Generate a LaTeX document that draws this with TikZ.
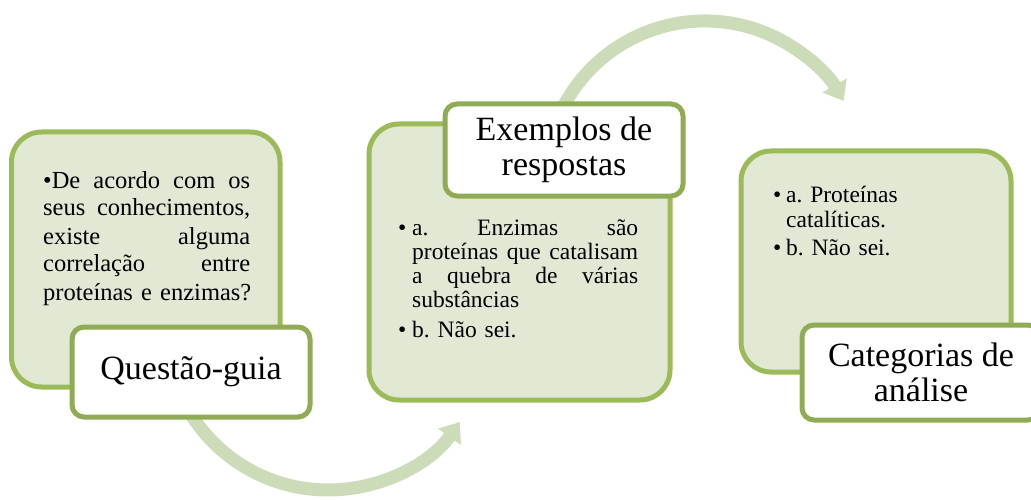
\documentclass[tikz,border=0pt]{standalone}
\usepackage{fontspec}
\setmainfont{Liberation Serif}
\usetikzlibrary{arrows.meta}
\definecolor{boxline}{RGB}{155,187,89}
\definecolor{tagline}{RGB}{143,171,84}
\definecolor{boxfill}{RGB}{225,232,212}
\definecolor{arrowfill}{RGB}{205,220,184}
\frenchspacing
\hbadness=10000
\newcommand{\jline}[2]{\makebox[#1]{#2}}
\begin{document}
\begin{tikzpicture}[x=1pt,y=-1pt]
            \tikzstyle{panel}=[draw=boxline,fill=boxfill,line width=5pt,rounded corners=30pt,inner sep=0pt]
            \tikzstyle{tag}=[draw=tagline,fill=white,line width=5pt,rounded corners=12pt,inner sep=0pt,minimum width=238pt,align=center,font=\fontsize{34}{35}\selectfont]
            \tikzstyle{body}=[inner sep=0pt,anchor=base west,align=left,font=\fontsize{24.5}{28}\selectfont]
            \tikzstyle{cycle}=[draw=arrowfill,line width=13pt,-{Triangle[length=18pt,width=27pt]}]
            \useasboundingbox (0,0) rectangle (1031,500);
            \clip (0,0) rectangle (1031,500);
            \fill[white] (0,0) rectangle (1031,500);
            \node[panel,minimum width=268.5pt,minimum height=255pt] (qbox) at (145.75,259.5) {};
            \node[panel,minimum width=301pt,minimum height=276pt] (ebox) at (519.5,262) {};
            \node[panel,minimum width=270pt,minimum height=221pt] (cbox) at (876,261.5) {};
            \coordinate (qarc) at (328,328);
            \coordinate (earc) at (705,181);
            \draw[cycle] (qarc) ++(150:162) arc[start angle=150,end angle=35.5,radius=162];
            \draw[cycle] (earc) ++(205:160) arc[start angle=205,end angle=330,radius=160];
            \node[tag,minimum height=90pt] (qtag) at (191,372) {Questão-guia};
            \node[tag,minimum height=92pt] (etag) at (564,150) {Exemplos de\\respostas};
            \node[tag,minimum height=95pt] (ctag) at (921,372.5) {Categorias de\\análise};
            \node[body,text width=210pt] (qtext) at (43,188) {\jline{207pt}{•De\hfill acordo\hfill com\hfill os}\\\jline{207pt}{seus\hfill conhecimentos,}\\\jline{207pt}{existe\hfill alguma}\\\jline{207pt}{correlação\hfill entre}\\proteínas e enzimas?};
            \node[body,text width=250pt,font=\fontsize{23.5}{24}\selectfont] (etext) at (398,235) {\makebox[14pt][l]{•}\jline{226pt}{a.\hfill Enzimas\hfill são}\\\hspace*{14pt}\jline{226pt}{proteínas\hfill que\hfill catalisam}\\\hspace*{14pt}\jline{226pt}{a\hfill quebra\hfill de\hfill várias}\\\hspace*{14pt}substâncias\\[6pt]\makebox[14pt][l]{•}b. Não sei.};
            \node[body,text width=220pt,font=\fontsize{23.5}{25}\selectfont] (ctext) at (773,202) {\makebox[13pt][l]{•}a. Proteínas\\\hspace*{13pt}catalíticas.\\[3pt]\makebox[13pt][l]{•}b. Não sei.};
        \end{tikzpicture}
\end{document}
